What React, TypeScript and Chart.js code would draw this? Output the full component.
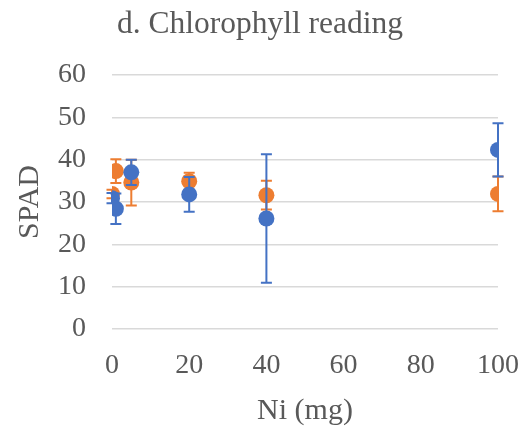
import React, { useEffect, useRef } from "react";
import { Chart, registerables } from "chart.js";

Chart.register(...registerables);

const niLevels = [0, 1, 5, 20, 40, 100];
const seriesA = [30.9, 28.4, 37.0, 31.8, 26.1, 42.3];
const seriesAErr = [1.2, 3.6, 3.0, 4.1, 15.2, 6.3];
const seriesB = [31.9, 37.3, 34.6, 34.9, 31.6, 31.9];
const seriesBErr = [1.0, 2.8, 5.4, 2.0, 3.4, 4.1];
const yTicks = [0, 10, 20, 30, 40, 50, 60];
const xTicks = [0, 20, 40, 60, 80, 100];
const chartTitle = "d. Chlorophyll reading";

const BLUE = "#4472C4";
const ORANGE = "#ED7D31";
const TEXT = "#595959";
const FONT = "'Liberation Serif', 'Times New Roman', serif";

const errorBarPlugin = {
  id: "errorBars",
  beforeDatasetDraw(chart: any, args: any) {
    const ds = chart.data.datasets[args.index];
    const errs: number[] = ds.errors;
    if (!errs) return;
    const xs = chart.scales.x;
    const ys = chart.scales.y;
    const ctx = chart.ctx;
    ctx.save();
    ctx.strokeStyle = ds.backgroundColor;
    ctx.lineWidth = 2;
    ds.data.forEach((p: any, i: number) => {
      const px = xs.getPixelForValue(p.x);
      const top = ys.getPixelForValue(p.y + errs[i]);
      const bot = ys.getPixelForValue(p.y - errs[i]);
      ctx.beginPath();
      ctx.moveTo(px, top);
      ctx.lineTo(px, bot);
      ctx.moveTo(px - 5.5, top);
      ctx.lineTo(px + 5.5, top);
      ctx.moveTo(px - 5.5, bot);
      ctx.lineTo(px + 5.5, bot);
      ctx.stroke();
    });
    ctx.restore();
  },
};

const titlePlugin = {
  id: "freeTitle",
  afterDraw(chart: any) {
    const ctx = chart.ctx;
    ctx.save();
    ctx.fillStyle = TEXT;
    ctx.font = `31.5px ${FONT}`;
    ctx.textAlign = "center";
    ctx.textBaseline = "alphabetic";
    ctx.fillText(chartTitle, chart.width / 2 - 5, 33);
    ctx.restore();
  },
};

export default function App() {
  const ref = useRef<HTMLCanvasElement>(null);
  useEffect(() => {
    if (!ref.current) return;
    const chart = new Chart(ref.current, {
      type: "scatter",
      data: {
        datasets: [
          {
            label: "A",
            data: niLevels.map((x, i) => ({ x, y: seriesA[i] })),
            errors: seriesAErr,
            backgroundColor: BLUE,
            borderColor: BLUE,
            pointRadius: 8,
            pointHoverRadius: 8,
            borderWidth: 0,
          } as any,
          {
            label: "B",
            data: niLevels.map((x, i) => ({ x, y: seriesB[i] })),
            errors: seriesBErr,
            backgroundColor: ORANGE,
            borderColor: ORANGE,
            pointRadius: 8,
            pointHoverRadius: 8,
            borderWidth: 0,
          } as any,
        ],
      },
      options: {
        animation: false,
        responsive: false,
        layout: { padding: { top: 75, right: 32, left: 0, bottom: 0 } },
        plugins: {
          legend: { display: false },
          tooltip: { enabled: false },
          title: { display: false },
        },
        scales: {
          x: {
            type: "linear",
            min: 0,
            max: 100,
            afterBuildTicks: (s: any) => {
              s.ticks = xTicks.map((v) => ({ value: v }));
            },
            grid: { display: false, drawTicks: false },
            border: { display: false },
            ticks: {
              color: TEXT,
              font: { family: FONT, size: 28 },
              padding: 20,
              maxRotation: 0,
            },
            title: {
              display: true,
              text: "Ni (mg)",
              color: TEXT,
              font: { family: FONT, size: 30 },
              padding: { top: 0, bottom: 4 },
            },
            afterFit: (s: any) => {
              s.height = 104;
              s.paddingLeft = 0;
              s.paddingRight = 0;
            },
          },
          y: {
            type: "linear",
            min: 0,
            max: 60,
            afterBuildTicks: (s: any) => {
              s.ticks = yTicks.map((v) => ({ value: v }));
            },
            grid: { color: "#D9D9D9", lineWidth: 1.5, drawTicks: false },
            border: { display: false },
            ticks: {
              color: TEXT,
              font: { family: FONT, size: 28 },
              padding: 26,
            },
            title: {
              display: true,
              text: "SPAD",
              color: TEXT,
              font: { family: FONT, size: 30 },
              padding: { top: 12, bottom: 0 },
            },
            afterFit: (s: any) => {
              s.width = 112;
            },
          },
        },
      } as any,
      plugins: [errorBarPlugin, titlePlugin],
    });
    return () => chart.destroy();
  }, []);
  return (
    <div style={{ position: "fixed", left: 0, top: 0, width: 530, height: 433, background: "#fff" }}>
      <canvas ref={ref} width={530} height={433} style={{ width: 530, height: 433 }} />
    </div>
  );
}
